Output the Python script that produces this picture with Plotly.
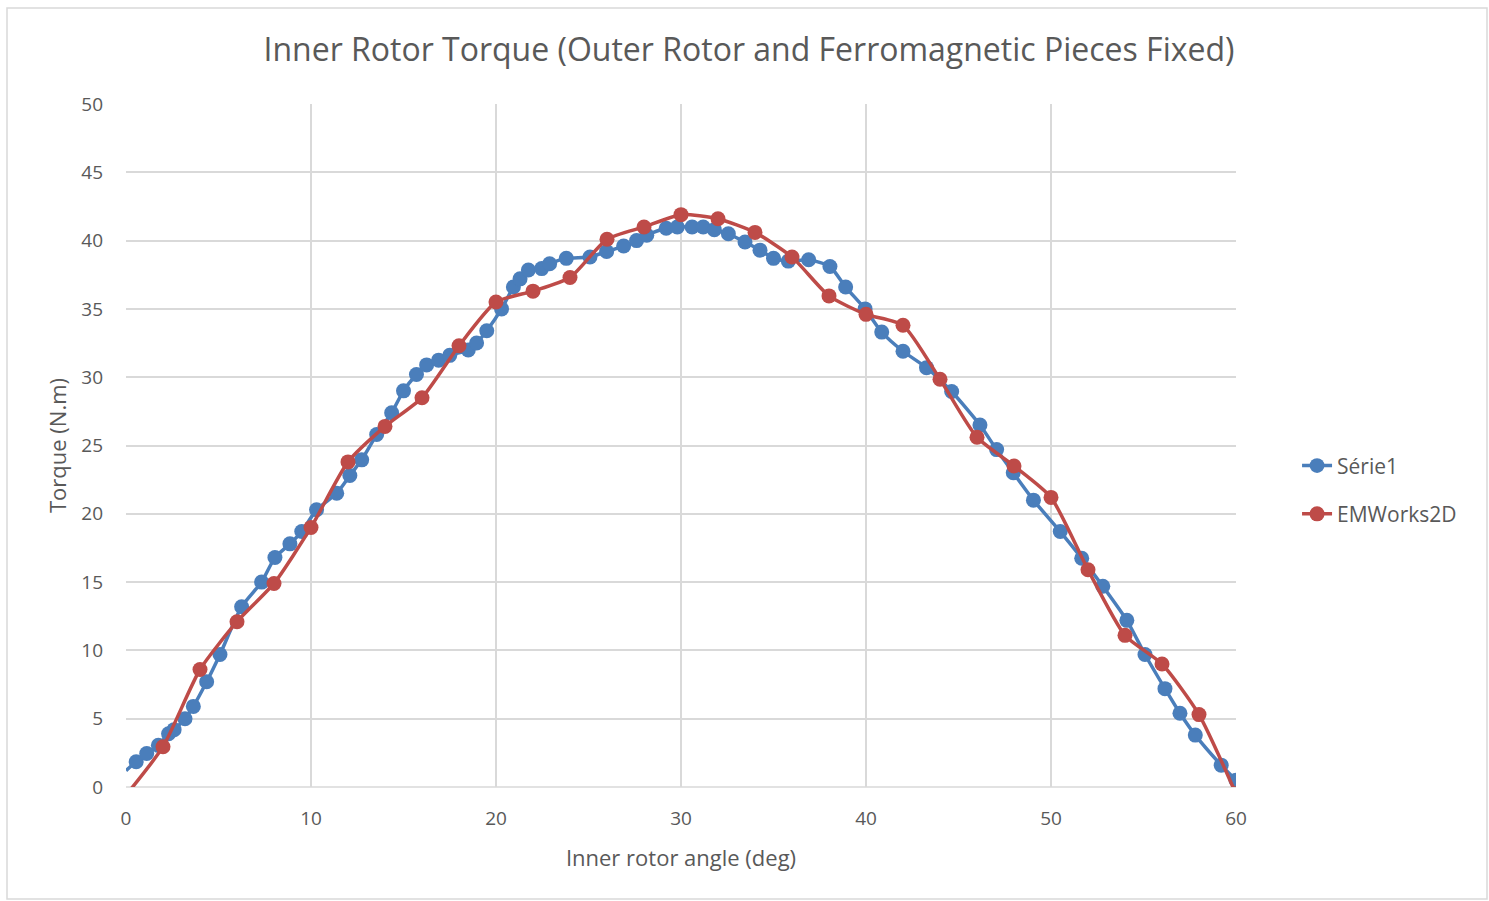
import plotly.graph_objects as go

# Série1 (blue)
serie1_x = [0, 0.55, 1.12, 1.75, 2.3, 2.6, 3.19, 3.64, 4.36, 5.08, 6.25, 7.33, 8.05, 8.86, 9.5,
            10.3, 11.39, 12.1, 12.74, 13.55, 14.36, 15.0, 15.7, 16.25, 16.9, 17.5, 18.5, 18.95, 19.5,
            20.3, 20.94, 21.3, 21.75, 22.47, 22.9, 23.8, 25.08, 25.98, 26.9, 27.6, 28.15, 29.2, 29.8,
            30.6, 31.2, 31.8, 32.56, 33.46, 34.27, 35.0, 35.8, 36.9, 38.05, 38.9, 39.95, 40.85, 42.0,
            43.27, 44.63, 46.16, 47.06, 47.96, 49.05, 50.5, 51.66, 52.8, 54.1, 55.08, 56.16, 56.97,
            57.8, 59.2, 60.0]
serie1_y = [1.2, 1.85, 2.45, 3.05, 3.9, 4.2, 5.0, 5.9, 7.7, 9.7, 13.2, 15.0, 16.8, 17.8, 18.7,
            20.3, 21.5, 22.8, 23.95, 25.8, 27.4, 29.0, 30.2, 30.9, 31.25, 31.6, 32.0, 32.5, 33.4,
            35.0, 36.6, 37.2, 37.85, 37.95, 38.3, 38.7, 38.8, 39.2, 39.6, 40.0, 40.4, 40.9, 41.0,
            41.0, 41.0, 40.8, 40.5, 39.9, 39.3, 38.7, 38.5, 38.6, 38.1, 36.6, 35.0, 33.3, 31.9,
            30.7, 28.95, 26.5, 24.7, 23.0, 21.0, 18.7, 16.75, 14.7, 12.2, 9.7, 7.2, 5.4,
            3.8, 1.6, 0.5]

# EMWorks2D (red)
emworks_x = [0, 2, 4, 6, 8, 10, 12, 14, 16, 18, 20, 22, 24, 26, 28, 30, 32, 34, 36, 38, 40,
             42, 44, 46, 48, 50, 52, 54, 56, 58, 60]
emworks_y = [-0.6, 2.95, 8.6, 12.1, 14.9, 19.0, 23.8, 26.4, 28.5, 32.3, 35.5, 36.3, 37.3, 40.1,
             41.0, 41.9, 41.6, 40.6, 38.8, 35.95, 34.6, 33.8, 29.85, 25.6, 23.5, 21.2, 15.9, 11.1,
             9.0, 5.3, -0.5]

x_ticks = [0, 10, 20, 30, 40, 50, 60]
y_ticks = [0, 5, 10, 15, 20, 25, 30, 35, 40, 45, 50]

FONT = "Open Sans"
TXT = "#595959"
GRID = "#d9d9d9"
BLUE = "#4a7ebb"
RED = "#be4b48"

fig = go.Figure()
blue_sizes = [0] + [15] * (len(serie1_x) - 1)
fig.add_trace(go.Scatter(x=serie1_x, y=serie1_y, mode="lines+markers", name="Série1",
                         legendgroup="a",
                         line=dict(color=BLUE, width=3.5, shape="spline", smoothing=0.6),
                         marker=dict(color=BLUE, size=blue_sizes, opacity=1,
                                     line=dict(width=0))))
fig.add_trace(go.Scatter(x=emworks_x, y=emworks_y, mode="lines+markers", name="EMWorks2D",
                         legendgroup="b",
                         line=dict(color=RED, width=3.5, shape="spline", smoothing=0.6),
                         marker=dict(color=RED, size=15, opacity=1, line=dict(width=0))))

fig.update_layout(
    width=1489, height=901,
    margin=dict(l=126, r=253, t=104, b=114),
    paper_bgcolor="white", plot_bgcolor="white",
    font=dict(family=FONT, color=TXT, size=18),
    title=dict(text="Inner Rotor Torque (Outer Rotor and Ferromagnetic Pieces Fixed)",
               x=0.503, xanchor="center", y=1 - 50 / 901, yanchor="middle",
               font=dict(family=FONT, size=32, color=TXT)),
    xaxis=dict(range=[0, 60], tickvals=x_ticks, showgrid=True, gridcolor=GRID, gridwidth=1.5,
               zeroline=False, showline=False, ticks="", ticklabelstandoff=18,
               tickfont=dict(size=19, color=TXT),
               title=dict(text="Inner rotor angle (deg)", standoff=20,
                          font=dict(size=22, color=TXT))),
    yaxis=dict(range=[0, 50], tickvals=y_ticks, showgrid=True, gridcolor=GRID, gridwidth=1.5,
               zeroline=False, showline=False, ticks="", ticklabelstandoff=22,
               tickfont=dict(size=19, color=TXT),
               title=dict(text="Torque (N.m)", standoff=8,
                          font=dict(size=22, color=TXT))),
    legend=dict(x=1.055, xanchor="left", y=0.435, yanchor="middle",
                traceorder="grouped", tracegroupgap=18,
                font=dict(size=21, color=TXT), bgcolor="rgba(0,0,0,0)"),
    shapes=[
        dict(type="rect", xref="paper", yref="paper",
             x0=(7 - 126) / 1110, x1=(1487 - 126) / 1110,
             y0=(787 - 899) / 683, y1=(787 - 8) / 683,
             line=dict(color=GRID, width=1.5), fillcolor="rgba(0,0,0,0)", layer="below"),
        dict(type="line", xref="paper", yref="paper", x0=0, x1=1, y0=0, y1=0,
             line=dict(color=GRID, width=1.5), layer="below"),
    ],
)

fig.write_html("out.html")
